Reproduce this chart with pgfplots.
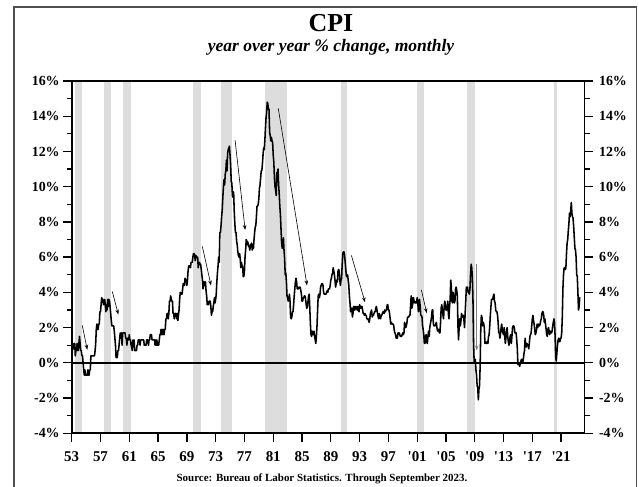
\documentclass[border=0pt]{standalone}
\usepackage{pgfplots}
\pgfplotsset{compat=1.18}
\usepackage{pgfplotstable}
\usepackage{fontspec}
\setmainfont{Liberation Serif}
\usetikzlibrary{arrows.meta}
\definecolor{recgray}{HTML}{DDDDDD}
\definecolor{framegray}{HTML}{505050}
\pgfplotstableread[row sep=\\,header=false]{
0.4\\0.6\\1.1\\0.8\\1.1\\1.1\\0.4\\0.7\\0.7\\1.1\\0.7\\0.7\\
1.1\\1.5\\1.1\\0.7\\0.7\\0.4\\0.4\\0.0\\-0.4\\-0.7\\-0.4\\-0.7\\
-0.7\\-0.7\\-0.7\\-0.4\\-0.7\\-0.7\\-0.4\\-0.4\\0.4\\0.4\\0.4\\0.4\\
0.4\\0.4\\0.4\\0.7\\1.1\\1.9\\2.2\\1.9\\1.9\\2.2\\2.2\\2.9\\
2.9\\3.3\\3.7\\3.6\\3.6\\3.3\\3.3\\3.6\\3.3\\2.9\\3.3\\3.0\\
3.6\\3.2\\3.6\\3.5\\3.2\\2.8\\2.4\\2.1\\2.1\\2.1\\2.1\\1.8\\
1.4\\1.0\\0.3\\0.3\\0.3\\0.7\\0.7\\1.0\\1.4\\1.7\\1.4\\1.7\\
1.0\\1.7\\1.7\\1.7\\1.7\\1.7\\1.4\\1.4\\1.0\\1.4\\1.3\\1.3\\
1.6\\1.3\\1.3\\1.0\\0.9\\0.7\\1.3\\1.0\\1.3\\0.7\\0.7\\0.7\\
0.7\\1.0\\1.0\\1.3\\1.3\\1.3\\1.0\\1.3\\1.3\\1.3\\1.3\\1.3\\
1.3\\1.0\\1.0\\1.0\\1.0\\1.3\\1.3\\1.3\\1.0\\1.3\\1.3\\1.6\\
1.6\\1.6\\1.3\\1.3\\1.3\\1.3\\1.3\\1.0\\1.3\\1.0\\1.3\\1.0\\
1.0\\1.0\\1.3\\1.6\\1.6\\1.9\\1.6\\1.9\\1.6\\1.9\\1.6\\1.9\\
1.9\\2.5\\2.5\\2.8\\2.8\\2.5\\2.8\\3.5\\3.5\\3.8\\3.6\\3.5\\
3.5\\2.8\\2.8\\2.5\\2.8\\2.8\\2.8\\2.5\\2.8\\2.4\\2.7\\3.0\\
3.6\\4.0\\3.9\\3.9\\3.9\\4.2\\4.5\\4.4\\4.4\\4.8\\4.7\\4.7\\
4.4\\4.7\\5.2\\5.5\\5.5\\5.5\\5.4\\5.7\\5.7\\5.7\\6.0\\6.2\\
6.2\\6.1\\5.8\\6.1\\6.0\\6.0\\6.0\\5.4\\5.7\\5.7\\5.6\\5.6\\
5.3\\5.0\\4.7\\4.2\\4.4\\4.6\\4.4\\4.6\\4.1\\3.8\\3.3\\3.3\\
3.3\\3.5\\3.5\\3.5\\3.2\\2.7\\2.9\\2.9\\3.2\\3.4\\3.7\\3.4\\
3.6\\3.9\\4.6\\5.1\\5.5\\6.0\\5.7\\7.4\\7.4\\7.8\\8.3\\8.7\\
9.4\\10.0\\10.4\\10.1\\10.7\\10.9\\11.5\\10.9\\11.9\\12.1\\12.2\\12.3\\
11.8\\11.2\\10.3\\10.2\\9.5\\9.4\\9.7\\8.6\\7.9\\7.4\\7.4\\6.9\\
6.7\\6.3\\6.1\\6.0\\6.2\\5.9\\5.4\\5.7\\5.5\\5.5\\4.9\\4.9\\
5.2\\6.0\\6.4\\7.0\\6.7\\6.9\\6.8\\6.6\\6.6\\6.4\\6.7\\6.7\\
6.8\\6.4\\6.6\\6.5\\7.0\\7.4\\7.7\\7.8\\8.3\\8.9\\8.9\\9.0\\
9.3\\9.9\\10.1\\10.5\\10.9\\10.9\\11.3\\11.8\\12.2\\12.1\\12.6\\13.3\\
13.9\\14.2\\14.8\\14.7\\14.4\\14.4\\13.1\\12.9\\12.6\\12.8\\12.6\\12.5\\
11.8\\11.4\\10.5\\10.0\\9.8\\9.5\\10.8\\10.8\\11.0\\10.1\\9.6\\8.9\\
8.4\\7.6\\6.8\\6.5\\6.7\\7.1\\6.4\\5.9\\5.0\\5.1\\4.6\\3.8\\
3.7\\3.5\\3.6\\3.9\\3.5\\2.6\\2.5\\2.6\\2.9\\2.9\\3.3\\3.8\\
4.2\\4.6\\4.8\\4.6\\4.2\\4.2\\4.2\\4.3\\4.3\\4.3\\4.1\\3.9\\
3.5\\3.5\\3.7\\3.7\\3.8\\3.8\\3.6\\3.3\\3.1\\3.2\\3.5\\3.8\\
3.9\\3.1\\2.2\\1.6\\1.5\\1.8\\1.6\\1.6\\1.8\\1.5\\1.3\\1.1\\
1.5\\2.1\\3.0\\3.8\\3.9\\3.7\\3.9\\4.3\\4.4\\4.5\\4.5\\4.4\\
4.0\\3.9\\3.9\\3.9\\3.9\\4.0\\4.1\\4.0\\4.2\\4.2\\4.2\\4.4\\
4.7\\4.8\\5.0\\5.1\\5.4\\5.2\\5.0\\4.7\\4.3\\4.5\\4.7\\4.6\\
5.2\\5.3\\5.2\\4.7\\4.4\\4.7\\4.8\\5.6\\6.2\\6.3\\6.3\\6.1\\
5.7\\5.3\\4.9\\4.9\\5.0\\4.7\\4.4\\3.8\\3.4\\2.9\\3.0\\3.1\\
2.6\\2.8\\3.2\\3.2\\3.0\\3.1\\3.2\\3.1\\3.0\\3.2\\3.0\\2.9\\
3.3\\3.2\\3.1\\3.2\\3.2\\3.0\\2.8\\2.8\\2.7\\2.8\\2.7\\2.7\\
2.5\\2.5\\2.5\\2.4\\2.3\\2.5\\2.8\\2.9\\3.0\\2.6\\2.7\\2.7\\
2.8\\2.9\\2.9\\3.1\\3.2\\3.0\\2.8\\2.6\\2.5\\2.8\\2.6\\2.5\\
2.7\\2.7\\2.8\\2.9\\2.9\\2.8\\3.0\\2.9\\3.0\\3.0\\3.3\\3.3\\
3.0\\3.0\\2.8\\2.5\\2.2\\2.3\\2.2\\2.2\\2.2\\2.1\\1.8\\1.7\\
1.6\\1.4\\1.4\\1.4\\1.7\\1.7\\1.7\\1.6\\1.5\\1.5\\1.5\\1.6\\
1.7\\1.6\\1.7\\2.3\\2.1\\2.0\\2.1\\2.3\\2.6\\2.6\\2.6\\2.7\\
2.7\\3.2\\3.8\\3.1\\3.2\\3.7\\3.7\\3.4\\3.5\\3.4\\3.4\\3.4\\
3.7\\3.5\\2.9\\3.3\\3.6\\3.2\\2.7\\2.7\\2.6\\2.1\\1.9\\1.6\\
1.1\\1.1\\1.5\\1.6\\1.2\\1.1\\1.5\\1.8\\1.5\\2.0\\2.2\\2.4\\
2.6\\3.0\\3.0\\2.2\\2.1\\2.1\\2.1\\2.2\\2.3\\2.0\\1.8\\1.9\\
1.9\\1.7\\1.7\\2.3\\3.1\\3.3\\3.0\\2.7\\2.5\\3.2\\3.5\\3.3\\
3.0\\3.0\\3.1\\3.5\\2.8\\2.5\\3.2\\3.6\\4.7\\4.3\\3.5\\3.4\\
4.0\\3.6\\3.4\\3.5\\4.2\\4.3\\4.1\\3.8\\2.1\\1.3\\2.0\\2.5\\
2.1\\2.4\\2.8\\2.6\\2.7\\2.7\\2.4\\2.0\\2.8\\3.5\\4.3\\4.1\\
4.3\\4.0\\4.0\\3.9\\4.2\\5.0\\5.6\\5.4\\4.9\\3.7\\1.1\\0.1\\
0.0\\0.2\\-0.4\\-0.7\\-1.3\\-1.4\\-2.1\\-1.5\\-1.3\\-0.2\\1.8\\2.7\\
2.6\\2.1\\2.3\\2.2\\2.0\\1.1\\1.2\\1.1\\1.1\\1.2\\1.1\\1.5\\
1.6\\2.1\\2.7\\3.2\\3.6\\3.6\\3.6\\3.8\\3.9\\3.5\\3.4\\3.0\\
2.9\\2.9\\2.7\\2.3\\1.7\\1.7\\1.4\\1.7\\2.0\\2.2\\1.8\\1.7\\
1.6\\2.0\\1.5\\1.1\\1.4\\1.8\\2.0\\1.5\\1.2\\1.0\\1.2\\1.5\\
1.6\\1.1\\1.5\\2.0\\2.1\\2.1\\2.0\\1.7\\1.7\\1.7\\1.3\\0.8\\
-0.1\\0.0\\-0.1\\-0.2\\0.0\\0.1\\0.2\\0.2\\0.0\\0.2\\0.5\\0.7\\
1.4\\1.0\\0.9\\1.1\\1.0\\1.0\\0.8\\1.1\\1.5\\1.6\\1.7\\2.1\\
2.5\\2.7\\2.4\\2.2\\1.9\\1.6\\1.7\\1.9\\2.2\\2.0\\2.2\\2.1\\
2.1\\2.2\\2.4\\2.5\\2.8\\2.9\\2.9\\2.7\\2.3\\2.5\\2.2\\1.9\\
1.6\\1.5\\1.9\\2.0\\1.8\\1.6\\1.8\\1.7\\1.7\\1.8\\2.1\\2.3\\
2.5\\2.3\\1.5\\0.3\\0.1\\0.6\\1.0\\1.3\\1.4\\1.2\\1.2\\1.4\\
1.4\\1.7\\2.6\\4.2\\5.0\\5.4\\5.4\\5.3\\5.4\\6.2\\6.8\\7.0\\
7.5\\7.9\\8.5\\8.3\\8.6\\9.1\\8.5\\8.3\\8.2\\7.7\\7.1\\6.5\\
6.4\\6.0\\5.0\\4.9\\4.0\\3.0\\3.2\\3.7\\3.7\\
}\cpidata
\begin{document}
\begin{tikzpicture}
\useasboundingbox (0bp,0bp) rectangle (639bp,487bp);
\draw[framegray, line width=1.2bp] (14bp,0bp) -- (14bp,480bp) -- (636.7bp,480bp) -- (636.7bp,0bp);
\node[anchor=base, inner sep=0pt, font=\bfseries\fontsize{26}{26}\selectfont] at (331bp,455.3bp) {CPI};
\node[anchor=base, inner sep=0pt, font=\bfseries\itshape\fontsize{17.6}{17.6}\selectfont] at (331bp,435bp) {year over year \% change, monthly};
\node[anchor=base, inner sep=0pt, font=\bfseries\fontsize{11}{11}\selectfont] at (322bp,5.3bp) {Source: Bureau of Labor Statistics. Through September 2023.};
\pgfplotsset{
  cpiaxis/.style={
    at={(71.7bp,53.7bp)}, anchor=south west, scale only axis,
    width=512.8bp, height=352.3bp,
    xmin=1953, xmax=2024.25, ymin=-4, ymax=16,
    axis line style={line width=1.6bp},
    tick style={line width=1.3bp, black},
    tick align=outside,
    major tick length=8.5bp, minor tick length=5bp,
    ytick={-4,-2,...,16}, minor ytick={-3,-1,...,15},
    yticklabel={\pgfmathparse{int(round(\tick))}\pgfmathresult\%},
    y tick label style={font=\bfseries\fontsize{14}{14}\selectfont},
    x tick label style={font=\bfseries\fontsize{15}{15}\selectfont, yshift=-6bp},
  }
}
\begin{axis}[cpiaxis,
    xtick={1953,1957,...,2021},
    xticklabels={53,57,61,65,69,73,77,81,85,89,93,97,\textquotesingle01,\textquotesingle05,\textquotesingle09,\textquotesingle13,\textquotesingle17,\textquotesingle21},
    xtick pos=left, ytick pos=left,
    axis on top]
% recession shading
\addplot[fill=recgray, draw=none] coordinates {(1953.45,-4) (1954.38,-4) (1954.38,16) (1953.45,16)} -- cycle;
\addplot[fill=recgray, draw=none] coordinates {(1957.5,-4) (1958.4,-4) (1958.4,16) (1957.5,16)} -- cycle;
\addplot[fill=recgray, draw=none] coordinates {(1960.13,-4) (1961.2,-4) (1961.2,16) (1960.13,16)} -- cycle;
\addplot[fill=recgray, draw=none] coordinates {(1969.9,-4) (1970.97,-4) (1970.97,16) (1969.9,16)} -- cycle;
\addplot[fill=recgray, draw=none] coordinates {(1973.75,-4) (1975.28,-4) (1975.28,16) (1973.75,16)} -- cycle;
\addplot[fill=recgray, draw=none] coordinates {(1979.9,-4) (1982.96,-4) (1982.96,16) (1979.9,16)} -- cycle;
\addplot[fill=recgray, draw=none] coordinates {(1990.43,-4) (1991.26,-4) (1991.26,16) (1990.43,16)} -- cycle;
\addplot[fill=recgray, draw=none] coordinates {(2000.98,-4) (2001.9,-4) (2001.9,16) (2000.98,16)} -- cycle;
\addplot[fill=recgray, draw=none] coordinates {(2007.9,-4) (2008.98,-4) (2008.98,16) (2007.9,16)} -- cycle;
\addplot[fill=recgray, draw=none] coordinates {(2020.07,-4) (2020.45,-4) (2020.45,16) (2020.07,16)} -- cycle;
% zero line
\addplot[black, line width=1.6bp] coordinates {(1953,0) (2024.25,0)};
% CPI
\addplot[black, line width=1.55bp, line join=round] table[x expr=1953+\coordindex/12, y index=0] {\cpidata};
% arrows
\addplot[black, line width=0.6bp, -{Stealth[length=5bp,width=3.5bp]}] coordinates {(1954.47,2.12) (1955.17,0.74)};
\addplot[black, line width=0.6bp, -{Stealth[length=5bp,width=3.5bp]}] coordinates {(1958.64,4.05) (1959.48,2.74)};
\addplot[black, line width=0.6bp, -{Stealth[length=5bp,width=3.5bp]}] coordinates {(1971.15,6.61) (1972.36,4.39)};
\addplot[black, line width=0.6bp, -{Stealth[length=5bp,width=3.5bp]}] coordinates {(1975.7,12.64) (1977.1,7.54)};
\addplot[black, line width=0.6bp, -{Stealth[length=5bp,width=3.5bp]}] coordinates {(1981.7,14.45) (1985.7,4.39)};
\addplot[black, line width=0.6bp, -{Stealth[length=5bp,width=3.5bp]}] coordinates {(1991.86,6.1) (1993.76,3.44)};
\addplot[black, line width=0.6bp, -{Stealth[length=5bp,width=3.5bp]}] coordinates {(2001.58,4.14) (2002.33,2.82)};
\addplot[gray, line width=0.8bp, -{Stealth[length=5bp,width=3.5bp]}] coordinates {(2009.28,5.63) (2009.28,0.7)};
\end{axis}
\begin{axis}[cpiaxis,
    hide x axis, axis y line*=right,
    ytick pos=right, yticklabel pos=right,
    y tick label style={xshift=2.5bp}]
\end{axis}
\end{tikzpicture}
\end{document}
